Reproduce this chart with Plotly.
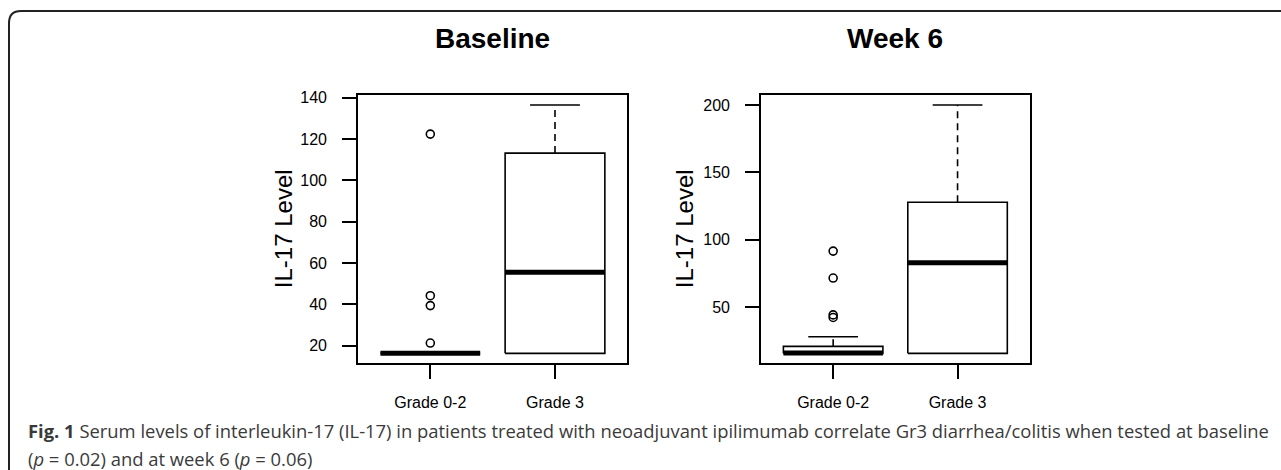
import plotly.graph_objects as go

# ---------------- data ----------------
categories = ["Grade 0-2", "Grade 3"]

baseline_lower = [16.3, 16.3]
baseline_q1 = [16.3, 16.3]
baseline_median = [16.3, 55.5]
baseline_q3 = [16.3, 113.2]
baseline_upper = [16.3, 136.5]
baseline_outliers = [[21.3, 39.4, 44.2, 122.4], []]
baseline_ticks = [20, 40, 60, 80, 100, 120, 140]

week6_lower = [15.9, 15.9]
week6_q1 = [15.9, 15.9]
week6_median = [16.2, 83.1]
week6_q3 = [21.1, 127.9]
week6_upper = [28.2, 200.0]
week6_outliers = [[42.5, 44.4, 71.7, 91.7], []]
week6_ticks = [50, 100, 150, 200]

panel_titles = ["Baseline", "Week 6"]
y_label = "IL-17 Level"
caption_line1 = ("<b>Fig. 1</b> Serum levels of interleukin-17 (IL-17) in patients treated with "
                 "neoadjuvant ipilimumab correlate Gr3 diarrhea/colitis when tested at baseline")
caption_line2 = "(<i>p</i> = 0.02) and at week 6 (<i>p</i> = 0.06)"

# ---------------- layout constants ----------------
W, H = 1281, 470
FONT = "Liberation Sans, Arial, Helvetica, sans-serif"
CAP_FONT = "Open Sans, Noto Sans, sans-serif"
HALF_BOX = 0.4
HALF_CAP = 0.2

fig = go.Figure()


def add_panel(xaxis, yaxis, lower, q1, med, q3, upper, outliers):
    for i, _ in enumerate(categories):
        c = i + 1
        line = dict(color="black", width=1.6)
        # whiskers (dashed)
        if upper[i] > q3[i]:
            fig.add_trace(go.Scatter(x=[c, c], y=[q3[i], upper[i]], mode="lines",
                                     line=dict(color="black", width=1.6, dash="7px,5px"),
                                     xaxis=xaxis, yaxis=yaxis, hoverinfo="skip"))
            fig.add_trace(go.Scatter(x=[c - HALF_CAP, c + HALF_CAP], y=[upper[i], upper[i]],
                                     mode="lines", line=line, xaxis=xaxis, yaxis=yaxis,
                                     hoverinfo="skip"))
        if lower[i] < q1[i]:
            fig.add_trace(go.Scatter(x=[c, c], y=[lower[i], q1[i]], mode="lines",
                                     line=dict(color="black", width=1.6, dash="7px,5px"),
                                     xaxis=xaxis, yaxis=yaxis, hoverinfo="skip"))
            fig.add_trace(go.Scatter(x=[c - HALF_CAP, c + HALF_CAP], y=[lower[i], lower[i]],
                                     mode="lines", line=line, xaxis=xaxis, yaxis=yaxis,
                                     hoverinfo="skip"))
        # box
        fig.add_trace(go.Scatter(
            x=[c - HALF_BOX, c + HALF_BOX, c + HALF_BOX, c - HALF_BOX, c - HALF_BOX],
            y=[q1[i], q1[i], q3[i], q3[i], q1[i]],
            mode="lines", line=line, xaxis=xaxis, yaxis=yaxis, hoverinfo="skip"))
        # median
        fig.add_trace(go.Scatter(x=[c - HALF_BOX, c + HALF_BOX], y=[med[i], med[i]],
                                 mode="lines", line=dict(color="black", width=5),
                                 xaxis=xaxis, yaxis=yaxis, hoverinfo="skip"))
        # outliers
        if outliers[i]:
            fig.add_trace(go.Scatter(x=[c] * len(outliers[i]), y=outliers[i], mode="markers",
                                     marker=dict(symbol="circle-open", size=8, color="black",
                                                 line=dict(width=1.6, color="black")),
                                     xaxis=xaxis, yaxis=yaxis))


add_panel("x", "y", baseline_lower, baseline_q1, baseline_median, baseline_q3,
          baseline_upper, baseline_outliers)
add_panel("x2", "y2", week6_lower, week6_q1, week6_median, week6_q3,
          week6_upper, week6_outliers)


def y_range(*arrs):
    vals = []
    for a in arrs:
        for v in a:
            if isinstance(v, list):
                vals.extend(v)
            else:
                vals.append(v)
    lo, hi = min(vals), max(vals)
    pad = 0.04 * (hi - lo)
    return [lo - pad, hi + pad]


yr1 = y_range(baseline_lower, baseline_upper, baseline_outliers)
yr2 = y_range(week6_lower, week6_upper, week6_outliers)

px_x = lambda p: p / W
px_y = lambda p: 1 - p / H

x1_dom = [px_x(358), px_x(627.3)]
x2_dom = [px_x(761), px_x(1029.7)]
y_dom = [px_y(363.3), px_y(95)]

axis_common = dict(showline=True, mirror=True, linecolor="black", linewidth=1.6,
                   ticks="outside", ticklen=14, tickwidth=1.6, tickcolor="black",
                   showgrid=False, zeroline=False, automargin=False,
                   tickfont=dict(family=FONT, size=16, color="black"))

fig.update_layout(
    width=W, height=H,
    margin=dict(l=0, r=0, t=0, b=0),
    paper_bgcolor="white", plot_bgcolor="white",
    showlegend=False,
    xaxis=dict(domain=x1_dom, range=[0.42, 2.58], tickvals=[1, 2], ticktext=categories,
               anchor="y", ticklabelstandoff=10, **axis_common),
    yaxis=dict(domain=y_dom, range=yr1, tickvals=baseline_ticks, anchor="x",
               ticklabelstandoff=12, **axis_common),
    xaxis2=dict(domain=x2_dom, range=[0.42, 2.58], tickvals=[1, 2], ticktext=categories,
                anchor="y2", ticklabelstandoff=10, **axis_common),
    yaxis2=dict(domain=y_dom, range=yr2, tickvals=week6_ticks, anchor="x2",
                ticklabelstandoff=12, **axis_common),
)

annotations = [
    dict(text=f"<b>{panel_titles[0]}</b>", x=(x1_dom[0] + x1_dom[1]) / 2, y=px_y(38),
         xref="paper", yref="paper", xanchor="center", yanchor="middle", showarrow=False,
         font=dict(family=FONT, size=28, color="black")),
    dict(text=f"<b>{panel_titles[1]}</b>", x=(x2_dom[0] + x2_dom[1]) / 2, y=px_y(38),
         xref="paper", yref="paper", xanchor="center", yanchor="middle", showarrow=False,
         font=dict(family=FONT, size=28, color="black")),
    dict(text=y_label, x=px_x(283), y=(y_dom[0] + y_dom[1]) / 2, textangle=-90,
         xref="paper", yref="paper", xanchor="center", yanchor="middle", showarrow=False,
         font=dict(family=FONT, size=24, color="black")),
    dict(text=y_label, x=px_x(684), y=(y_dom[0] + y_dom[1]) / 2, textangle=-90,
         xref="paper", yref="paper", xanchor="center", yanchor="middle", showarrow=False,
         font=dict(family=FONT, size=24, color="black")),
    dict(text=caption_line1, x=px_x(26), y=px_y(430), xref="paper", yref="paper",
         xanchor="left", yanchor="middle", showarrow=False,
         font=dict(family=CAP_FONT, size=18.4, color="#3a3a3a")),
    dict(text=caption_line2, x=px_x(26), y=px_y(458), xref="paper", yref="paper",
         xanchor="left", yanchor="middle", showarrow=False,
         font=dict(family=CAP_FONT, size=18.4, color="#3a3a3a")),
]
fig.update_layout(annotations=annotations)

# outer frame with rounded top-left corner
x0, yt, r = px_x(9), px_y(11), 12
fig.add_shape(type="path", xref="paper", yref="paper",
              path=(f"M {x0} 0 L {x0} {px_y(11 + r)} "
                    f"Q {x0} {yt} {px_x(9 + r)} {yt} L 1 {yt}"),
              line=dict(color="#222222", width=2))

fig.write_html("out.html", config={"displayModeBar": False},
               post_script="document.body.style.margin='0';document.body.style.overflow='hidden';")
